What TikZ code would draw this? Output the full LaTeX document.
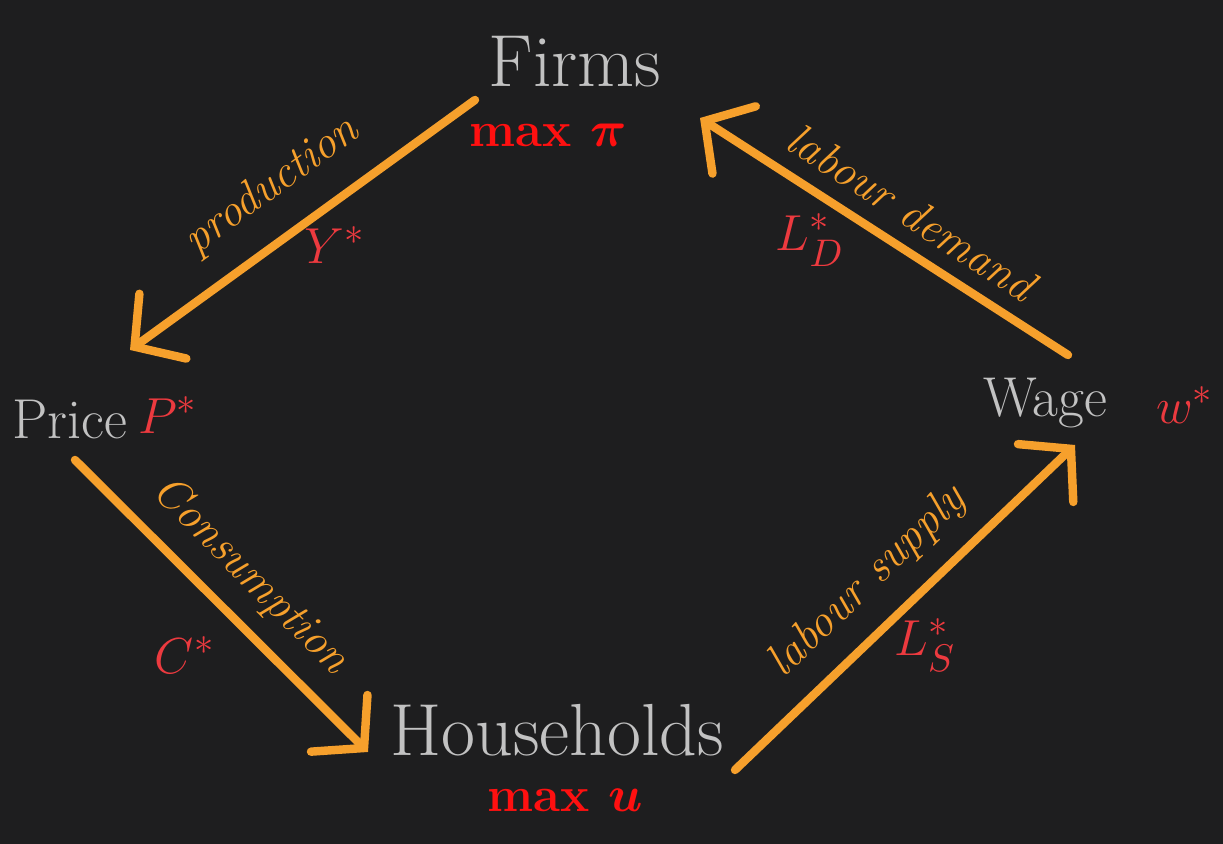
\documentclass[tikz,border=0pt]{standalone}
\usepackage{tikz}
\usepackage{amsmath}
\usepackage{bm}
\usetikzlibrary{arrows.meta}

\definecolor{board}{HTML}{1E1E1F}
\definecolor{chalk}{HTML}{C2C2C2}
\definecolor{flow}{HTML}{F6A02C}
\definecolor{opt}{HTML}{FF1010}
\definecolor{eq}{HTML}{EC3A3F}

\begin{document}
\begin{tikzpicture}[
	agent/.style={text=chalk, font=\fontsize{21}{24}\selectfont},
	market/.style={text=chalk, font=\fontsize{16}{19}\selectfont},
	goal/.style={text=opt, font=\bfseries\fontsize{14}{16}\selectfont},
	value/.style={text=eq, font=\fontsize{15}{18}\selectfont},
	flowlabel/.style={text=flow, font=\itshape\fontsize{13}{15}\selectfont},
	flowarrow/.style={draw=flow, line width=2.4pt, line cap=round,
		-{Straight Barb[length=3.5mm, width=8mm, line cap=round]}}
	]
	% board
	\fill[board] (0,0) rectangle (12.23,8.44);
	\useasboundingbox (0,0) rectangle (12.23,8.44);
	
	% agents and markets
	\node[agent] (firms) at (5.75,7.82) {Firms};
	\node[goal] (maxpi) at (5.48,7.09) {max $\bm{\pi}$};
	\node[agent] (house) at (5.57,1.14) {Households};
	\node[goal] (maxu) at (5.65,0.44) {max $\bm{u}$};
	\node[market] (price) at (0.70,4.24) {Price};
	\node[value] (pstar) at (1.68,4.29) {$P^*$};
	\node[market] (wage) at (10.45,4.41) {Wage};
	\node[value] (wstar) at (11.85,4.39) {$w^*$};
	
	% arrow ends
	\coordinate (prodA) at (4.75,7.44);
	\coordinate (prodB) at (1.30,4.94);
	\coordinate (consA) at (0.75,3.84);
	\coordinate (consB) at (3.68,0.92);
	\coordinate (supA) at (7.35,0.74);
	\coordinate (supB) at (10.75,3.99);
	\coordinate (demA) at (10.68,4.89);
	\coordinate (demB) at (7.00,7.26);
	
	\draw[flowarrow] (prodA) -- (prodB);
	\draw[flowarrow] (consA) -- (consB);
	\draw[flowarrow] (supA) -- (supB);
	\draw[flowarrow] (demA) -- (demB);
	
	% flow labels
	\node[flowlabel, rotate=36] (prod) at (2.72,6.58) {production};
	\node[flowlabel, rotate=-45] (cons) at (2.50,2.68) {Consumption};
	\node[flowlabel, rotate=44] (sup) at (8.68,2.62) {labour supply};
	\node[flowlabel, rotate=-33] (dem) at (9.12,6.32) {labour demand};
	
	% equilibrium quantities
	\node[value] (ystar) at (3.35,5.99) {$Y^*$};
	\node[value] (cstar) at (1.85,1.89) {$C^*$};
	\node[value] (ldstar) at (8.10,6.04) {$L^*_D$};
	\node[value] (lsstar) at (9.25,1.99) {$L^*_S$};
\end{tikzpicture}
\end{document}
